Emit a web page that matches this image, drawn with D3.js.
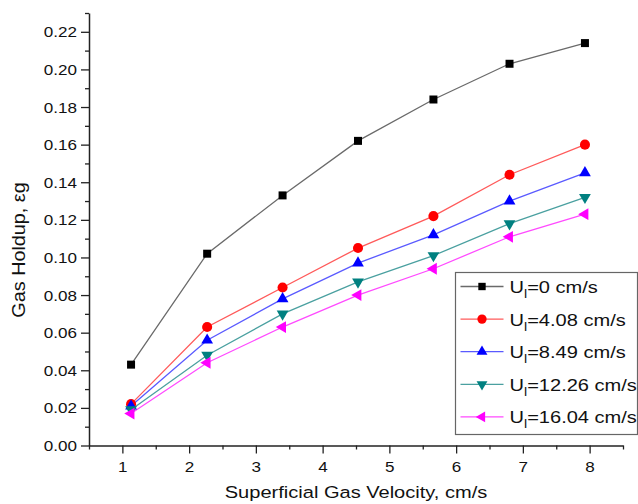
<!DOCTYPE html>
<html>
<head>
<meta charset="utf-8">
<script src="https://cdn.jsdelivr.net/npm/d3@7"></script>
<style>
  html, body { margin: 0; padding: 0; background: #fff; }
  svg { display: block; font-family: "Liberation Sans", Arial, sans-serif; }
</style>
</head>
<body>
<svg id="chart"></svg>
<script>
// superficial gas velocity, cm/s
const gasVelocity = [1.13, 2.27, 3.40, 4.53, 5.66, 6.80, 7.93];

// gas holdup for each liquid velocity
const holdupUl0     = [0.043, 0.102, 0.133, 0.162, 0.184, 0.203, 0.214];
const holdupUl408   = [0.022, 0.063, 0.084, 0.105, 0.122, 0.144, 0.160];
const holdupUl849   = [0.021, 0.056, 0.078, 0.097, 0.112, 0.130, 0.145];
const holdupUl1226  = [0.019, 0.048, 0.070, 0.087, 0.101, 0.118, 0.132];
const holdupUl1604  = [0.017, 0.044, 0.063, 0.080, 0.094, 0.111, 0.123];

const liquidVelocity = ["0", "4.08", "8.49", "12.26", "16.04"];
const xTicks = [1, 2, 3, 4, 5, 6, 7, 8];
const yTicks = [0, 0.02, 0.04, 0.06, 0.08, 0.10, 0.12, 0.14, 0.16, 0.18, 0.20, 0.22];

class HoldupChart {

    constructor(_config, _data) {
        this.config = {
            parentElement: _config.parentElement,
            containerWidth: _config.containerWidth || 638,
            containerHeight: _config.containerHeight || 504,
            margin: {top: 13, right: 15, bottom: 58.5, left: 89}
        }
        this.data = _data;
        this.initVis();
    }

    initVis() {
        let vis = this;

        vis.width = vis.config.containerWidth - vis.config.margin.left - vis.config.margin.right;
        vis.height = vis.config.containerHeight - vis.config.margin.top - vis.config.margin.bottom;

        vis.xScale = d3.scaleLinear()
            .domain([0.5, 8.5])
            .range([0, vis.width]);

        vis.yScale = d3.scaleLinear()
            .domain([0, 0.23])
            .range([vis.height, 0]);

        vis.svg = d3.select(vis.config.parentElement)
            .attr('width', vis.config.containerWidth)
            .attr('height', vis.config.containerHeight);

        vis.chart = vis.svg.append('g')
            .attr('transform', `translate(${vis.config.margin.left},${vis.config.margin.top})`);

        vis.stretch = 1.22;

        vis.renderVis();
    }

    renderVis() {
        let vis = this;
        const s = vis.stretch;

        // minor ticks first, majors on top
        const xMinor = d3.range(0.5, 8.51, 1);
        const yMinor = d3.range(0.01, 0.231, 0.02);

        vis.chart.append('g')
            .attr('transform', `translate(0,${vis.height})`)
            .call(d3.axisBottom(vis.xScale).tickValues(xMinor).tickSize(4).tickFormat(''))
            .call(g => g.select('.domain').remove())
            .selectAll('line').attr('stroke', '#222').attr('stroke-width', 1.3);

        vis.chart.append('g')
            .call(d3.axisLeft(vis.yScale).tickValues(yMinor).tickSize(4).tickFormat(''))
            .call(g => g.select('.domain').remove())
            .selectAll('line').attr('stroke', '#222').attr('stroke-width', 1.3);

        vis.xAxisG = vis.chart.append('g')
            .attr('transform', `translate(0,${vis.height})`)
            .call(d3.axisBottom(vis.xScale).tickValues(xTicks).tickSize(8).tickSizeOuter(0).tickFormat(d3.format('d')));

        vis.yAxisG = vis.chart.append('g')
            .call(d3.axisLeft(vis.yScale).tickValues(yTicks).tickSize(8).tickSizeOuter(0).tickFormat(d3.format('.2f')));

        [vis.xAxisG, vis.yAxisG].forEach(g => {
            g.select('.domain').attr('stroke', '#222').attr('stroke-width', 1.5);
            g.selectAll('line').attr('stroke', '#222').attr('stroke-width', 1.3);
            g.selectAll('text')
                .attr('font-family', '"Liberation Sans", Arial, sans-serif')
                .attr('font-size', 14)
                .attr('fill', '#111');
        });

        vis.xAxisG.selectAll('text')
            .attr('y', 27).attr('dy', 0)
            .attr('transform', `scale(${s},1)`);

        vis.yAxisG.selectAll('text')
            .attr('x', -12 / s).attr('dy', '0.36em')
            .attr('transform', `scale(${s},1)`);

        // series lines + markers
        const line = d3.line()
            .x((d, i) => vis.xScale(gasVelocity[i]))
            .y(d => vis.yScale(d));

        vis.data.forEach(series => {
            vis.chart.append('path')
                .datum(series.values)
                .attr('fill', 'none')
                .attr('stroke', series.line)
                .attr('stroke-width', 1.3)
                .attr('d', line);
        });

        vis.data.forEach(series => {
            vis.chart.selectAll(null)
                .data(series.values)
                .join('path')
                .attr('fill', series.color)
                .attr('d', d3.symbol().type(series.symbol).size(series.size))
                .attr('transform', (d, i) =>
                    `translate(${vis.xScale(gasVelocity[i])},${vis.yScale(d)}) rotate(${series.rotate})`);
        });

        // axis titles
        vis.svg.append('text')
            .attr('transform', `translate(${vis.config.margin.left + vis.width / 2},498) scale(1.18,1)`)
            .attr('text-anchor', 'middle')
            .attr('font-size', 17)
            .attr('fill', '#111')
            .text('Superficial Gas Velocity, cm/s');

        vis.svg.append('text')
            .attr('transform', 'translate(25,250) rotate(-90) scale(1.1,1)')
            .attr('text-anchor', 'middle')
            .attr('font-size', 18)
            .attr('fill', '#111')
            .text('Gas Holdup, εg');

        // legend
        const legend = vis.svg.append('g')
            .attr('transform', 'translate(455.5,272.5)');

        legend.append('rect')
            .attr('width', 182)
            .attr('height', 162)
            .attr('fill', '#fff')
            .attr('stroke', '#666')
            .attr('stroke-width', 1.2);

        const rows = legend.selectAll('.row')
            .data(vis.data)
            .join('g')
            .attr('class', 'row')
            .attr('transform', (d, i) => `translate(0,${14 + i * 32.6})`);

        rows.append('line')
            .attr('x1', 5).attr('x2', 48)
            .attr('stroke', d => d.line)
            .attr('stroke-width', 1.3);

        rows.append('path')
            .attr('fill', d => d.color)
            .attr('d', d => d3.symbol().type(d.symbol).size(d.size * 0.85)())
            .attr('transform', d => `translate(26.5,0) rotate(${d.rotate})`);

        const label = rows.append('text')
            .attr('transform', `translate(54,6.5) scale(1.18,1)`)
            .attr('font-size', 17)
            .attr('fill', '#111');

        label.append('tspan').text('U');
        label.append('tspan').attr('font-size', 12).attr('dy', 5).text('l');
        label.append('tspan').attr('dy', -5).text(d => `=${d.name} cm/s`);
    }
}

const seriesData = [
    {name: liquidVelocity[0], values: holdupUl0,    color: '#000000', line: '#6a6a6a', symbol: d3.symbolSquare,   size: 64, rotate: 0},
    {name: liquidVelocity[1], values: holdupUl408,  color: '#ff0000', line: '#ff5a5a', symbol: d3.symbolCircle,   size: 80, rotate: 0},
    {name: liquidVelocity[2], values: holdupUl849,  color: '#0000ff', line: '#5a5aff', symbol: d3.symbolTriangle, size: 60, rotate: 0},
    {name: liquidVelocity[3], values: holdupUl1226, color: '#008080', line: '#4aa0a0', symbol: d3.symbolTriangle, size: 60, rotate: 180},
    {name: liquidVelocity[4], values: holdupUl1604, color: '#ff00ff', line: '#ff4aff', symbol: d3.symbolTriangle, size: 60, rotate: -90}
];

new HoldupChart({parentElement: '#chart', containerWidth: 638, containerHeight: 504}, seriesData);
</script>
</body>
</html>
